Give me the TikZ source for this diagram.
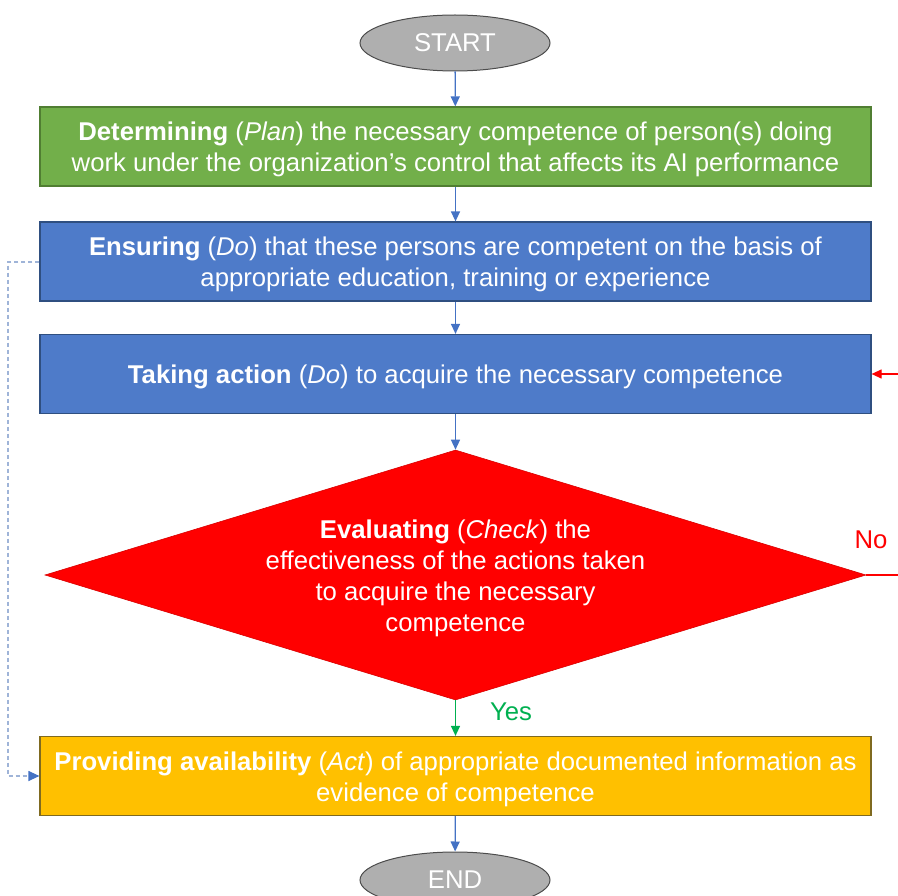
\documentclass[tikz,border=0pt]{standalone}
\usepackage{fontspec}
\setmainfont{Liberation Sans}
\usetikzlibrary{shapes.geometric,arrows.meta}
\definecolor{cgreen}{HTML}{72AF4A}
\definecolor{cgreenb}{HTML}{507E32}
\definecolor{cblue}{HTML}{4E7BC9}
\definecolor{cblueb}{HTML}{2F4F80}
\definecolor{cyellow}{HTML}{FFC000}
\definecolor{cyellowb}{HTML}{7F6A20}
\definecolor{cred}{HTML}{FF0000}
\definecolor{cgray}{HTML}{AFAFAF}
\definecolor{carrow}{HTML}{4472C4}
\definecolor{cdash}{HTML}{9FB4D8}
\definecolor{cyes}{HTML}{00B050}
\tikzset{
  x=1pt,y=-1pt,
  txt/.style={font=\fontsize{25.7}{31}\selectfont, text=white, align=center},
  boxx/.style={draw, line width=1.2pt, minimum width=831pt, minimum height=79pt, inner sep=0pt},
  inside/.style={label={[txt, yshift=-3pt]center:{#1}}},
  term/.style={ellipse, draw=black!70, line width=1pt, fill=cgray, minimum width=190pt, minimum height=56pt, inner sep=0pt, txt},
  flow/.style={draw=carrow, line width=1.3pt, -{Triangle[length=10pt,width=9pt]}},
  lbl/.style={font=\fontsize{25.7}{30}\selectfont},
}
\begin{document}
\begin{tikzpicture}
\useasboundingbox (0,0) rectangle (898,896);
\node[term] (start) at (455,43) {START};
\node[boxx, fill=cgreen, draw=cgreenb, inside={\textbf{Determining} (\textit{Plan}) the necessary competence of person(s) doing\\work under the organization’s control that affects its AI performance}] (plan) at (455.5,146.5) {};
\node[boxx, fill=cblue, draw=cblueb, inside={\textbf{Ensuring} (\textit{Do}) that these persons are competent on the basis of\\appropriate education, training or experience}] (ens) at (455.5,261.5) {};
\node[boxx, fill=cblue, draw=cblueb, inside={\textbf{Taking action} (\textit{Do}) to acquire the necessary competence}] (take) at (455.5,374) {};
\node[diamond, fill=cred, draw=red!85!black, line width=0.6pt, minimum width=821pt, minimum height=250pt, inner sep=0pt, inside={\textbf{Evaluating} (\textit{Check}) the\\effectiveness of the actions taken\\to acquire the necessary\\competence}] (eval) at (455.5,575) {};
\node[boxx, fill=cyellow, draw=cyellowb, inside={\textbf{Providing availability} (\textit{Act}) of appropriate documented information as\\evidence of competence}] (act) at (455.5,776) {};
\node[term] (end) at (455,880) {END};
\draw[flow] (start) -- (plan);
\draw[flow] (plan) -- (ens);
\draw[flow] (ens) -- (take);
\draw[flow] (take.south -| eval.north) -- (eval.north);
\draw[flow, draw=cyes] (eval.south) -- (act.north);
\node[lbl, text=cyes] (yes) at (511,712) {Yes};
\draw[flow] (act) -- (end);
\coordinate (noend) at (898,575);
\coordinate (backin) at (898,374);
\draw[cred, line width=1.2pt] (eval.east) -- (noend);
\node[lbl, text=cred] (no) at (871,540) {No};
\draw[cred, line width=1.2pt, -{Triangle[length=10pt,width=9pt]}] (backin) -- (take.east);
\coordinate (d1) at (8,262);
\coordinate (d2) at (8,776);
\draw[draw=cdash, line width=1.2pt, dash pattern=on 4pt off 3pt, -{Triangle[length=11pt,width=10pt,color=carrow]}] (ens.west |- d1) -- (d1) -- (d2) -- (act.west);
\end{tikzpicture}
\end{document}
